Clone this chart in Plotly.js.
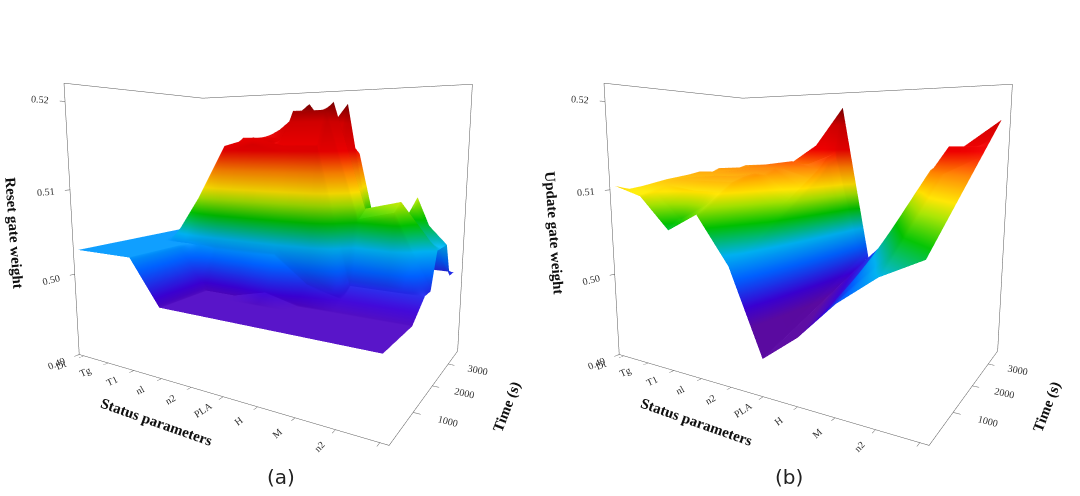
<!DOCTYPE html>
<html><head><meta charset="utf-8">
<script src="https://cdn.plot.ly/plotly-3.0.1.min.js"></script>
<style>body{margin:0;background:#fff}#c{width:1080px;height:496px}</style>
</head><body><div id="c"></div>
<script>
const paramIdx = [0,1,2,3,4,5,6,7,8,9];
const paramLabels = ["Dt","Tg","T1","nl","n2","PLA","H","M","n2","n1"];
const times = [0,300,600,900,1200,1500,1800,2100,2400,2700,3000,3300,3600];
const resetZ = [
 [0.503,0.503,0.503,0.503,0.503,0.503,0.503,0.503,0.503,0.503,0.503,0.503,0.503],
 [0.503,0.503,0.503,0.503,0.503,0.503,0.503,0.503,0.503,0.503,0.503,0.503,0.503],
 [0.503,0.503,0.503,0.503,0.503,0.503,0.5085,0.5085,0.5085,0.5085,0.5085,0.5085,0.5085],
 [0.498,0.498,0.498,0.498,0.498,0.503,0.515,0.515,0.516,0.515,0.507,0.515,0.516],
 [0.498,0.498,0.498,0.498,0.498,0.503,0.516,0.509,0.516,0.517,0.516,0.510,0.516],
 [0.498,0.498,0.498,0.498,0.499,0.503,0.515,0.519,0.515,0.520,0.515,0.516,0.515],
 [0.498,0.498,0.498,0.498,0.498,0.500,0.515,0.519,0.520,0.515,0.520,0.515,0.514],
 [0.498,0.498,0.498,0.498,0.498,0.499,0.500,0.507,0.508,0.503,0.500,0.498,0.498],
 [0.498,0.498,0.498,0.498,0.498,0.499,0.500,0.508,0.509,0.504,0.508,0.509,0.500],
 [0.498,0.498,0.498,0.498,0.498,0.499,0.500,0.500,0.504,0.504,0.504,0.500,0.500]
];
const updateZ = [
 [0.5105,0.5100,0.5102,0.5105,0.5108,0.5110,0.5112,0.5115,0.5112,0.5118,0.5114,0.5116,0.5120],
 [0.5095,0.5100,0.5105,0.5110,0.5112,0.5110,0.5113,0.5116,0.5114,0.5120,0.5116,0.5118,0.5122],
 [0.5060,0.5070,0.5100,0.5110,0.5115,0.5112,0.5115,0.5120,0.5118,0.5125,0.5118,0.5120,0.5125],
 [0.5080,0.5090,0.5100,0.5110,0.5115,0.5118,0.5116,0.5122,0.5120,0.5130,0.5120,0.5125,0.5150],
 [0.5030,0.5040,0.5050,0.5060,0.5070,0.5080,0.5090,0.5100,0.5110,0.5120,0.5135,0.5140,0.5200],
 [0.4940,0.4945,0.4950,0.4955,0.4960,0.4965,0.4970,0.4975,0.4980,0.4985,0.4990,0.4995,0.5000],
 [0.4970,0.4975,0.4980,0.4985,0.4990,0.4995,0.5000,0.5005,0.5010,0.5015,0.5020,0.5030,0.5040],
 [0.5010,0.5015,0.5020,0.5030,0.5040,0.5050,0.5060,0.5070,0.5080,0.5090,0.5100,0.5110,0.5120],
 [0.5040,0.5050,0.5060,0.5070,0.5080,0.5090,0.5100,0.5110,0.5120,0.5150,0.5130,0.5140,0.5150],
 [0.5060,0.5070,0.5080,0.5090,0.5100,0.5110,0.5120,0.5130,0.5140,0.5150,0.5160,0.5170,0.5180]
];
const paramPos = paramIdx.map(i => 9 - i);
const cs = [[0,'#5a0aa0'],[0.08,'#3a00d0'],[0.2,'#0060ff'],[0.3,'#00b0f0'],[0.42,'#00c000'],[0.5,'#a0e000'],[0.56,'#ffe000'],[0.66,'#ff8000'],[0.76,'#ee0000'],[0.9,'#d00000'],[1,'#7a0000']];
function tr(z,scene){return {type:'surface',x:times,y:paramPos,z:z,scene:scene,colorscale:cs,cmin:0.497,cmax:0.52,showscale:false,
  lighting:{ambient:0.9,diffuse:0.3,specular:0.05},contours:{x:{highlight:false},y:{highlight:false},z:{highlight:false}}};}
const fnt={family:'Liberation Serif',size:11,color:'#333'};
const tf={family:'Liberation Serif',size:15,color:'#111',weight:'bold'};
function sc(ztitle,dom){
  const ax={showbackground:false,showgrid:false,zeroline:false,showline:true,linecolor:'#555',mirror:true,ticks:'outside',tickcolor:'#555',showspikes:false,tickfont:fnt};
  return {domain:{x:dom,y:[0.08,1]},
    xaxis:Object.assign({},ax,{title:{text:'Time (s)',font:tf},range:[0,3700],tickvals:[1000,2000,3000]}),
    yaxis:Object.assign({},ax,{title:{text:'Status parameters',font:tf},range:[-0.2,9.2],tickvals:paramPos,ticktext:paramLabels}),
    zaxis:Object.assign({},ax,{title:{text:ztitle,font:tf},range:[0.49,0.522],tickvals:[0.49,0.50,0.51,0.52],tickformat:'.2f'}),
    aspectmode:'manual',aspectratio:{x:0.9,y:1.4,z:1.15},
    camera:{eye:{x:-1.97,y:-1.2,z:0.34},center:{x:0,y:0,z:-0.02}}};
}
Plotly.newPlot('c',[tr(resetZ,'scene'),tr(updateZ,'scene2')],{
  width:1080,height:496,margin:{l:0,r:0,t:0,b:0},paper_bgcolor:'#fff',
  scene:sc('Reset gate weight',[0,0.5]),scene2:sc('Update gate weight',[0.5,1]),
  annotations:[{text:'(a)',x:0.245,y:0.01,xref:'paper',yref:'paper',showarrow:false,font:{family:'DejaVu Sans',size:20,color:'#222'}},
               {text:'(b)',x:0.745,y:0.01,xref:'paper',yref:'paper',showarrow:false,font:{family:'DejaVu Sans',size:20,color:'#222'}}]
},{displayModeBar:false});
</script></body></html>
